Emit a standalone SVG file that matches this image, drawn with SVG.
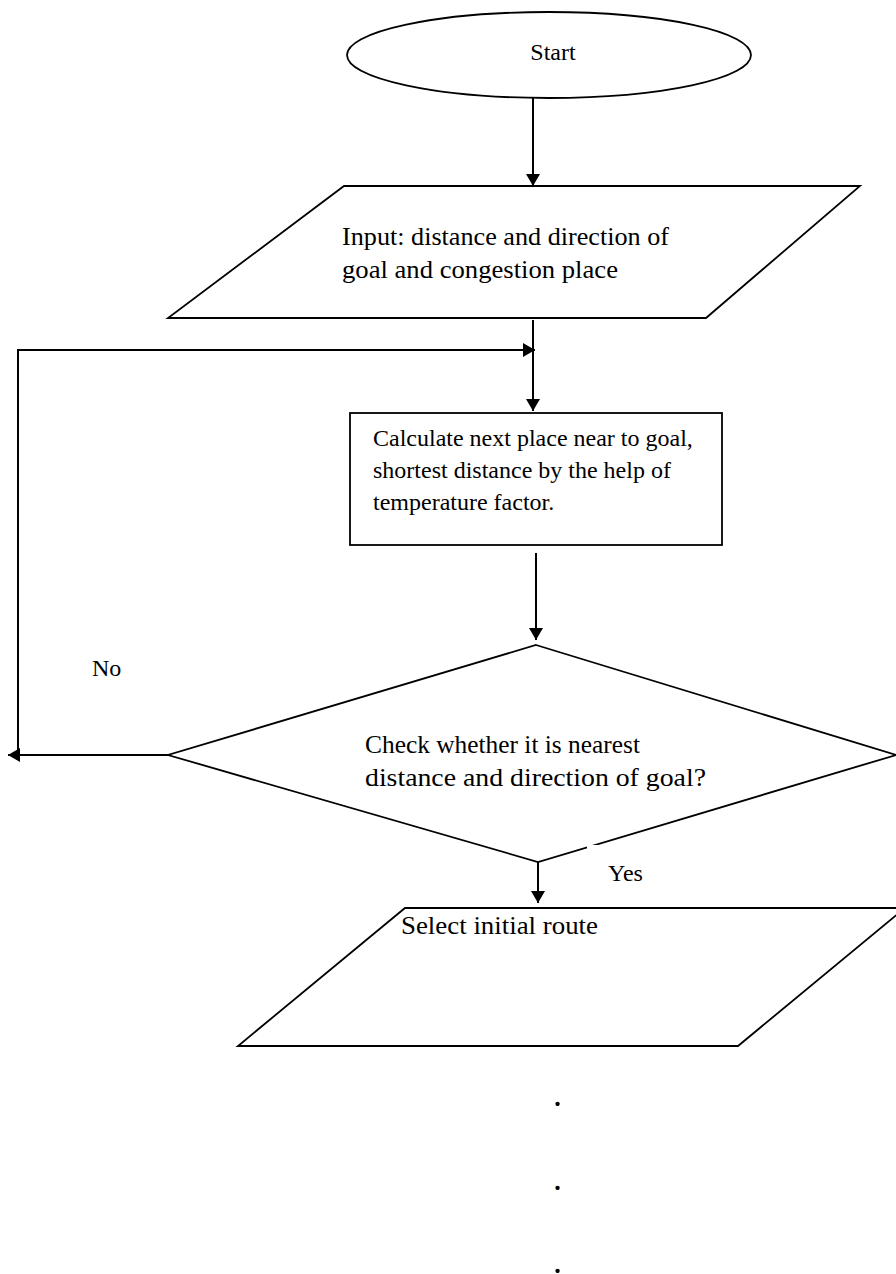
<svg xmlns="http://www.w3.org/2000/svg" width="896" height="1274" viewBox="0 0 896 1274">
<style>
.shape{fill:#fff;stroke:#000;stroke-width:1.8}
.conn{fill:none;stroke:#000;stroke-width:2}
text{font-family:"Liberation Serif","Times New Roman",serif;font-size:24px;fill:#000}
.big{font-size:26px}
.dot{font-size:36px}
</style>
<defs>
<marker id="ah" viewBox="0 0 12 14" refX="12" refY="7" markerWidth="12" markerHeight="14" markerUnits="userSpaceOnUse" orient="auto">
<path d="M0,0 L12,7 L0,14 Z" fill="#000"/>
</marker>
</defs>
<rect width="896" height="1274" fill="#fff"/>
<g id="start">
<ellipse class="shape" cx="549" cy="55" rx="202" ry="43"/>
<text x="553" y="60" text-anchor="middle">Start</text>
</g>
<g id="input">
<polygon class="shape" points="344,186 860,186 706,318 168,318"/>
<text class="big" x="342" y="245" textLength="327" lengthAdjust="spacingAndGlyphs">Input: distance and direction of</text>
<text class="big" x="342" y="278" textLength="276" lengthAdjust="spacingAndGlyphs">goal and congestion place</text>
</g>
<g id="calculate">
<rect class="shape" x="350" y="413" width="372" height="132"/>
<text x="373" y="446">Calculate next place near to goal,</text>
<text x="373" y="478">shortest distance by the help of</text>
<text x="373" y="510">temperature factor.</text>
</g>
<g id="check">
<polygon class="shape" points="536,645 896,755 538,862 168,755"/>
<text class="big" x="365" y="753" textLength="275" lengthAdjust="spacingAndGlyphs">Check whether it is nearest</text>
<text class="big" x="365" y="786" textLength="341" lengthAdjust="spacingAndGlyphs">distance and direction of goal?</text>
</g>
<g id="select">
<polygon class="shape" points="405,908 905,908 738,1046 238,1046"/>
<text class="big" x="401" y="934" textLength="197" lengthAdjust="spacingAndGlyphs">Select initial route</text>
</g>
<g id="connectors">
<line class="conn" x1="533" y1="98" x2="533" y2="186" marker-end="url(#ah)"/>
<line class="conn" x1="533" y1="320" x2="533" y2="411" marker-end="url(#ah)"/>
<line class="conn" x1="536" y1="553" x2="536" y2="640" marker-end="url(#ah)"/>
<line class="conn" x1="168" y1="755" x2="8" y2="755" marker-end="url(#ah)"/>
<polyline class="conn" points="18,755 18,350 535,350" marker-end="url(#ah)"/>
<line class="conn" x1="538" y1="862" x2="538" y2="903" marker-end="url(#ah)"/>
</g>
<g id="label-no">
<text x="92" y="676">No</text>
</g>
<g id="label-yes">
<rect x="587" y="845" width="70" height="40" fill="#fff"/>
<text x="608" y="881">Yes</text>
</g>
<g id="dots">
<text class="dot" x="553" y="1106">.</text>
<text class="dot" x="553" y="1190">.</text>
<text class="dot" x="553" y="1273">.</text>
</g>
</svg>
